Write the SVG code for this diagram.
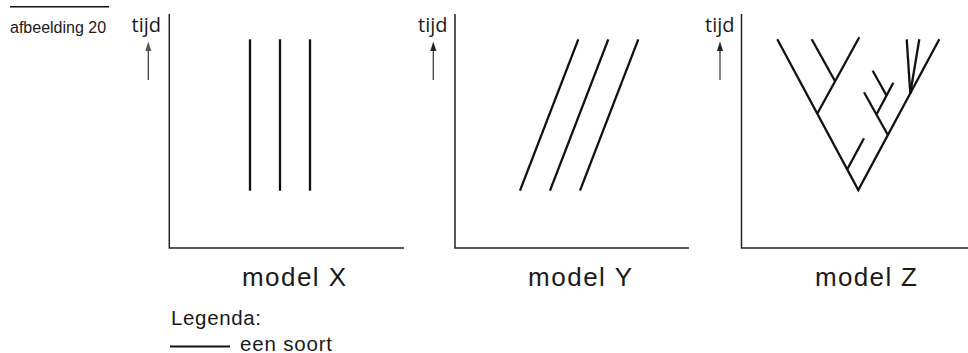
<svg xmlns="http://www.w3.org/2000/svg" width="968" height="353" viewBox="0 0 968 353">
<style>
.lbl{font-family:"Liberation Sans",Arial,sans-serif;fill:#1a1a1a}
.tijd{font-family:"Open Sans","Liberation Sans",sans-serif;font-size:20px;fill:#1a1a1a}
.axis{fill:none;stroke:#222;stroke-width:1.5}
.sp{fill:none;stroke:#111;stroke-width:2.3}
.arr{stroke:#333;stroke-width:1.2}
.model{font-size:26px}
.leg{font-size:20.5px}
</style>
<g id="caption">
<line x1="10" y1="6.8" x2="109" y2="6.8" stroke="#111" stroke-width="1.6"/>
<text class="lbl" x="10" y="33" font-size="16">afbeelding 20</text>
</g>
<g id="panel-x">
<text class="tijd" x="131.5" y="31.5">tijd</text>
<line class="arr" x1="148.3" y1="80" x2="148.3" y2="50" stroke="#777"/>
<path d="M145.3,51 L148.3,41.5 L151.3,51 Z" fill="#555"/>
<polyline class="axis" points="169.3,14 169.3,248 404,248"/>
<line class="sp" x1="250" y1="39.3" x2="250" y2="190.7"/>
<line class="sp" x1="280" y1="39.3" x2="280" y2="190.7"/>
<line class="sp" x1="310" y1="39.3" x2="310" y2="190.7"/>
<text class="lbl model" x="242" y="286" textLength="104">model X</text>
</g>
<g id="panel-y">
<text class="tijd" x="418" y="31.5">tijd</text>
<line class="arr" x1="433.3" y1="80" x2="433.3" y2="50"/>
<path d="M430.3,51 L433.3,41.5 L436.3,51 Z" fill="#222"/>
<polyline class="axis" points="455,14 455,248 689,248"/>
<line class="sp" x1="520" y1="190.7" x2="578.3" y2="39.3"/>
<line class="sp" x1="550" y1="190.7" x2="608.3" y2="39.3"/>
<line class="sp" x1="580" y1="190.7" x2="638.3" y2="39.3"/>
<text class="lbl model" x="528" y="286" textLength="104">model Y</text>
</g>
<g id="panel-z">
<text class="tijd" x="705" y="31.5">tijd</text>
<line class="arr" x1="720" y1="80" x2="720" y2="50"/>
<path d="M717,51 L720,41.5 L723,51 Z" fill="#222"/>
<polyline class="axis" points="741.5,14 741.5,248 968,248"/>
<g id="tree-z">
<polyline class="sp" points="777.3,39.3 858.3,190 939.3,39.3" stroke-miterlimit="10"/>
<line class="sp" x1="817.5" y1="113.3" x2="859.3" y2="37.3"/>
<line class="sp" x1="834.8" y1="80.7" x2="811.7" y2="39.3"/>
<line class="sp" x1="847.3" y1="169.3" x2="864" y2="138.3"/>
<line class="sp" x1="887.9" y1="135" x2="864" y2="92.3"/>
<line class="sp" x1="876.7" y1="114" x2="893.3" y2="82.7"/>
<line class="sp" x1="886.5" y1="95.5" x2="872.7" y2="70.7"/>
<line class="sp" x1="910.3" y1="93.3" x2="906.7" y2="39.3"/>
<line class="sp" x1="910.3" y1="93.3" x2="919.3" y2="39.3"/>
</g>
<text class="lbl model" x="815" y="286" textLength="102">model Z</text>
</g>
<g id="legend">
<text class="lbl leg" x="171" y="325" textLength="90">Legenda:</text>
<line x1="170" y1="346.5" x2="230" y2="346.5" stroke="#111" stroke-width="2.2"/>
<text class="lbl leg" x="240" y="350.5" textLength="92">een soort</text>
</g>
</svg>
